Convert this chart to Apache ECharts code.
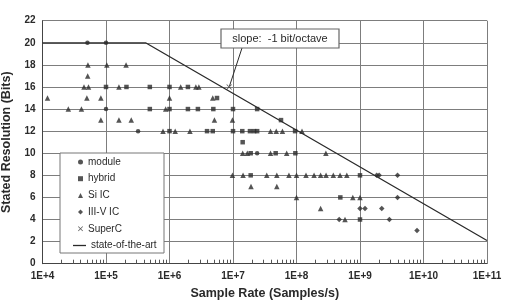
<!DOCTYPE html>
<html lang="en">
  <head>
    <meta charset="UTF-8" />
    <title>ADC survey</title>
    <script src="https://cdn.jsdelivr.net/npm/echarts@6/dist/echarts.min.js"></script>
    <style>
      html, body { margin: 0; padding: 0; background: #fff; }
    </style>
  </head>
  <body>
    <div id="main" style="width: 521px;height:300px;"></div>
    <script type="text/javascript">
      // tick labels of the sample rate axis, one per decade 1E+4 .. 1E+11
      var xTickLabels = ["1E+4", "1E+5", "1E+6", "1E+7", "1E+8", "1E+9", "1E+10", "1E+11"];
      var yTickLabels = [0, 2, 4, 6, 8, 10, 12, 14, 16, 18, 20, 22];

      // [sample rate, stated bits]
      var moduleData = [
        [5.1e4, 20], [1e5, 20], [1e5, 14], [3.2e5, 12], [2.4e7, 10]
      ];
      var hybridData = [
        [1e5, 16], [2.1e5, 16], [4.9e5, 16], [1e6, 16], [1.95e6, 16],
        [5.6e6, 15],
        [4.9e5, 14], [1e6, 14], [1.95e6, 14], [2.8e6, 14], [4.9e6, 14], [1e7, 14], [2.4e7, 14],
        [5.7e7, 13],
        [1e6, 12], [3.9e6, 12], [4.8e6, 12], [1e7, 12], [1.4e7, 12], [1.85e7, 12], [2.15e7, 12], [2.4e7, 12], [9.5e7, 12],
        [1.42e7, 11],
        [1.9e7, 10], [4.7e7, 10], [9.6e7, 10],
        [1.9e7, 8], [1e9, 8],
        [4.9e8, 6],
        [1e9, 4]
      ];
      var siData = [
        [5.2e4, 18], [1.03e5, 18], [2.07e5, 18],
        [5.15e4, 17],
        [4.5e4, 16], [5.3e4, 16], [1.6e5, 16], [1.5e6, 16], [2.6e6, 16], [2.9e6, 16],
        [1.2e4, 15], [5e4, 15], [8.3e4, 15], [1e6, 15], [4.8e6, 15],
        [2.55e4, 14], [4.1e4, 14], [8.7e5, 14],
        [8.3e4, 13], [1.6e5, 13], [2.5e5, 13], [5.1e6, 13], [9.8e6, 13],
        [7.9e5, 12], [1.23e6, 12], [2.1e6, 12], [3.9e7, 12], [4.8e7, 12], [6e7, 12], [1.22e8, 12],
        [1.42e7, 10], [1.68e7, 10], [3.9e7, 10], [7e7, 10], [2.9e8, 10],
        [9.8e6, 8], [1.44e7, 8], [3.4e7, 8], [4.9e7, 8], [7.6e7, 8], [1e8, 8], [1.41e8, 8],
        [1.89e8, 8], [2.4e8, 8], [2.92e8, 8], [3.8e8, 8], [4.85e8, 8], [6.2e8, 8],
        [1.92e7, 7], [4.9e7, 7],
        [1e8, 6], [7.7e8, 6], [1e9, 6],
        [2.4e8, 5],
        [5.8e8, 4]
      ];
      var iiivData = [
        [1.83e9, 8], [2.0e9, 8], [3.9e9, 8],
        [3.9e9, 6],
        [1e9, 5], [1.2e9, 5], [2.2e9, 5],
        [4.7e8, 4], [2.9e9, 4],
        [7.9e9, 3]
      ];
      var supercData = [
        [8.7e6, 16]
      ];
      // state-of-the-art envelope: flat at 20 bits, then -1 bit/octave
      var sotaData = [
        [1e4, 20], [4.2e5, 20], [1e11, 2.1]
      ];

      // log-decade minor ticks (2..9 within each decade)
      var minorTicks = [];
      for (var d = 4; d < 11; d++) {
        for (var k = 2; k < 10; k++) minorTicks.push(k * Math.pow(10, d));
      }

      var ink = "#2a2a2a";
      var fontFamily = "'Liberation Sans', Arial, sans-serif";
      var xShape = "path://M0,1L1,0L5,4L9,0L10,1L6,5L10,9L9,10L5,6L1,10L0,9L4,5Z";

      function scatter(name, data, symbol, size) {
        return {
          name: name,
          type: "scatter",
          data: data,
          symbol: symbol,
          symbolSize: size,
          itemStyle: { color: ink },
          z: 3
        };
      }

      var legendText = { fontFamily: fontFamily, fontSize: 10, color: ink, lineHeight: 12 };

      var myChart = echarts.init(document.getElementById("main"), null, { renderer: "canvas" });
      myChart.setOption({
        animation: false,
        backgroundColor: "#fff",
        grid: { left: 42.5, right: 34, top: 20.7, bottom: 36.3, containLabel: false, outerBoundsMode: "none" },
        legend: [
          {
            orient: "vertical",
            left: 78,
            top: 156,
            padding: 0,
            itemWidth: 5,
            itemHeight: 5,
            itemGap: 4.7,
            z: 12,
            textStyle: legendText,
            data: ["module", "hybrid", "Si IC", "III-V IC", "SuperC"]
          },
          {
            orient: "vertical",
            left: 73,
            top: 239.5,
            padding: 0,
            itemWidth: 13,
            itemHeight: 1.3,
            z: 12,
            textStyle: legendText,
            data: [{ name: "state-of-the-art", icon: "rect" }]
          }
        ],
        xAxis: [
          {
            type: "log",
            logBase: 10,
            min: 1e4,
            max: 1e11,
            interval: 1,
            splitNumber: 7,
            name: "Sample Rate (Samples/s)",
            nameLocation: "middle",
            nameGap: 23,
            nameTextStyle: { fontFamily: fontFamily, fontSize: 12.5, fontWeight: "bold", color: ink },
            axisLine: { show: true, lineStyle: { color: "#444", width: 1 } },
            axisTick: {
              show: true,
              inside: true,
              length: 4,
              customValues: minorTicks,
              lineStyle: { color: "#555", width: 1 }
            },
            axisLabel: {
              margin: 8,
              fontFamily: fontFamily,
              fontSize: 10,
              fontWeight: "bold",
              color: ink,
              formatter: function (v) {
                return xTickLabels[Math.round(Math.log10(v)) - 4];
              }
            },
            splitLine: { show: false }
          },
          {
            // carries only the decade grid lines
            type: "log",
            logBase: 10,
            min: 1e4,
            max: 1e11,
            interval: 1,
            splitNumber: 7,
            gridIndex: 0,
            position: "top",
            axisLine: { show: false },
            axisLabel: { show: false },
            axisTick: { show: false },
            splitLine: { show: true, lineStyle: { color: "#7d7d7d", width: 1 } }
          }
        ],
        yAxis: {
          type: "value",
          min: 0,
          max: 22,
          interval: 2,
          name: "Stated Resolution (Bits)",
          nameLocation: "middle",
          nameGap: 21,
          nameTextStyle: { fontFamily: fontFamily, fontSize: 12.5, fontWeight: "bold", color: ink },
          axisLine: { show: true, lineStyle: { color: "#444", width: 1 } },
          axisTick: { show: false },
          axisLabel: {
            margin: 7,
            fontFamily: fontFamily,
            fontSize: 10,
            fontWeight: "bold",
            color: ink,
            formatter: function (v) {
              return yTickLabels.indexOf(v) >= 0 ? String(v) : "";
            }
          },
          splitLine: { show: true, lineStyle: { color: "#7d7d7d", width: 1 } }
        },
        series: [
          scatter("module", moduleData, "circle", 4.5),
          scatter("hybrid", hybridData, "rect", 4.5),
          scatter("Si IC", siData, "triangle", 5.5),
          scatter("III-V IC", iiivData, "diamond", 5.5),
          scatter("SuperC", supercData, xShape, 5.5),
          {
            name: "state-of-the-art",
            type: "line",
            data: sotaData,
            showSymbol: false,
            symbol: "none",
            lineStyle: { color: ink, width: 1.3 },
            itemStyle: { color: ink },
            z: 4
          }
        ],
        graphic: [
          {
            type: "rect",
            z: 8,
            shape: { x: 60, y: 153, width: 104, height: 100 },
            style: { fill: "#fff", stroke: "#777", lineWidth: 1 }
          },
          {
            type: "line",
            z: 10,
            shape: { x1: 242, y1: 48, x2: 229.5, y2: 86 },
            style: { stroke: ink, lineWidth: 1 }
          },
          {
            type: "rect",
            z: 10,
            shape: { x: 221, y: 29, width: 118, height: 19 },
            style: { fill: "#fff", stroke: "#666", lineWidth: 1.2 }
          },
          {
            type: "text",
            z: 11,
            x: 280,
            y: 38.5,
            style: {
              text: "slope:  -1 bit/octave",
              fontFamily: fontFamily,
              fontSize: 11,
              fill: ink,
              align: "center",
              verticalAlign: "middle"
            }
          }
        ]
      });
    </script>
  </body>
</html>
